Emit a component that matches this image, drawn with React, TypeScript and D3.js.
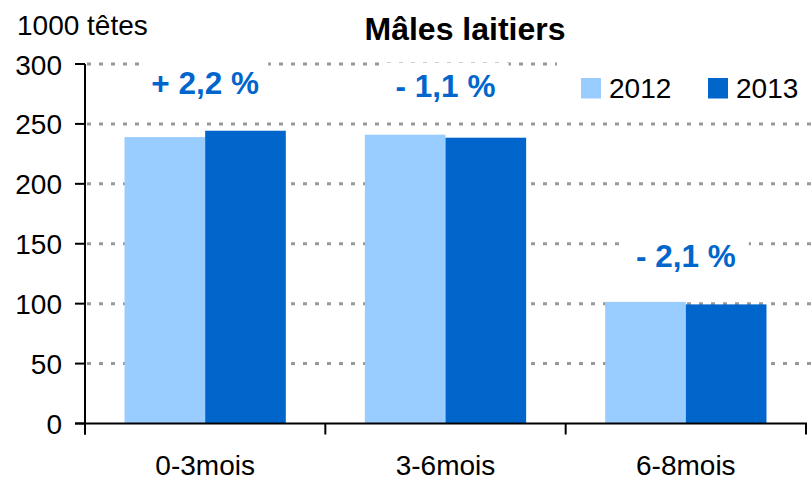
import React from 'react';
import * as d3 from 'd3';

const categories = ['0-3mois', '3-6mois', '6-8mois'];
const series = ['2012', '2013'];
const values2012 = [239, 241, 101.5];
const values2013 = [244.3, 238.5, 99.4];
const changeLabels = ['+ 2,2 %', '- 1,1 %', '- 2,1 %'];
const yTicks = [0, 50, 100, 150, 200, 250, 300];

const colors: Record<string, string> = { '2012': '#99CCFF', '2013': '#0066CC' };

const W = 812;
const H = 481;
const margin = { top: 64, right: 6, bottom: 57.5, left: 85 };

const SText = ({ x, y, size = 28, weight = 'normal', fill = '#000', anchor = 'middle', children }: any) => (
  <text
    x={x}
    y={y}
    fontFamily="'Liberation Sans', Arial, sans-serif"
    fontSize={size}
    fontWeight={weight}
    fill={fill}
    textAnchor={anchor}
  >
    {children}
  </text>
);

const App = () => {
  const x0 = d3
    .scaleBand<string>()
    .domain(categories)
    .range([margin.left, W - margin.right])
    .paddingInner(0)
    .paddingOuter(0);

  const x1 = d3
    .scaleBand<string>()
    .domain(series)
    .range([0, x0.bandwidth()])
    .paddingInner(0)
    .paddingOuter(0.49);

  const y = d3.scaleLinear().domain([0, 300]).range([H - margin.bottom, margin.top]);

  const rows = categories.map((c, i) => ({ cat: c, v: { '2012': values2012[i], '2013': values2013[i] } as any }));

  // label baselines
  const labelY = [y(300) + 30, y(300) + 33, y(150) + 23];

  const boundaries = [...categories.map((c) => x0(c)!), W - margin.right];

  return (
    <svg width={W} height={H} style={{ position: 'absolute', left: 0, top: 0, background: '#fff' }}>
      <rect width={W} height={H} fill="#fff" />

      {/* gridlines */}
      <g>
        {yTicks.filter((t) => t > 0).map((t) => (
          <line
            key={t}
            x1={margin.left + 2}
            x2={W}
            y1={y(t)}
            y2={y(t)}
            stroke="#999"
            strokeWidth={3}
            strokeDasharray="4,8"
          />
        ))}
      </g>

      {/* white boxes behind labels and legend */}
      {categories.map((c, i) => (
        <rect
          key={c}
          x={x0(c)! + x0.bandwidth() / 2 - 63}
          y={labelY[i] - 34}
          width={126}
          height={46}
          fill="#fff"
        />
      ))}
      <rect x={557} y={58} width={W - 557} height={55} fill="#fff" />

      {/* bars */}
      <g>
        {rows.map((r) => (
          <g key={r.cat} transform={`translate(${x0(r.cat)},0)`}>
            {series.map((s) => (
              <rect
                key={s}
                x={x1(s)}
                y={y(r.v[s])}
                width={x1.bandwidth()}
                height={y(0) - y(r.v[s])}
                fill={colors[s]}
              />
            ))}
          </g>
        ))}
      </g>

      {/* axes */}
      <g stroke="#000" strokeWidth={2}>
        <line x1={margin.left} x2={margin.left} y1={y(300)} y2={y(0) + 11} />
        {yTicks.map((t) => (
          <line key={t} x1={margin.left - 10} x2={margin.left} y1={y(t)} y2={y(t)} />
        ))}
        <line x1={margin.left - 10} x2={W - margin.right + 1} y1={y(0)} y2={y(0)} />
        {boundaries.map((b, i) => (
          <line key={i} x1={b} x2={b} y1={y(0)} y2={y(0) + 11} />
        ))}
      </g>

      {/* y tick labels */}
      {yTicks.map((t) => (
        <SText key={t} x={62} y={y(t) + 10.5} anchor="end">
          {t}
        </SText>
      ))}

      {/* x labels */}
      {categories.map((c) => (
        <SText key={c} x={x0(c)! + x0.bandwidth() / 2} y={475}>
          {c}
        </SText>
      ))}

      {/* change labels */}
      {categories.map((c, i) => (
        <SText
          key={c}
          x={x0(c)! + x0.bandwidth() / 2}
          y={labelY[i]}
          size={31.5}
          weight="bold"
          fill="#0066CC"
        >
          {changeLabels[i]}
        </SText>
      ))}

      {/* unit and title */}
      <SText x={17} y={35} anchor="start">
        1000 têtes
      </SText>
      <SText x={465} y={40} size={32} weight="bold">
        Mâles laitiers
      </SText>

      {/* legend */}
      {series.map((s, i) => (
        <g key={s} transform={`translate(${581 + i * 127},78)`}>
          <rect width={20} height={20.5} fill={colors[s]} />
          <SText x={28} y={20} anchor="start">
            {s}
          </SText>
        </g>
      ))}
    </svg>
  );
};

export default App;
